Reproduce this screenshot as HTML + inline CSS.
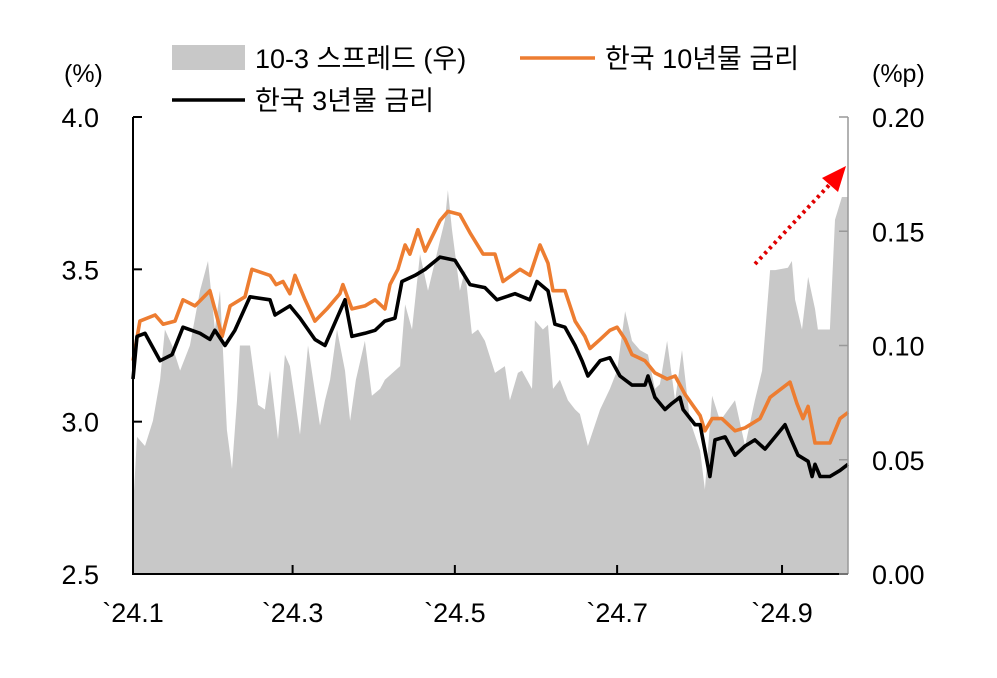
<!DOCTYPE html>
<html><head><meta charset="utf-8"><style>
body{margin:0;background:#fff;}
svg text{font-family:"Liberation Sans","Noto Sans CJK KR",sans-serif;fill:#000;}
</style></head><body>
<svg id="chart" width="997" height="673" viewBox="0 0 997 673" xmlns="http://www.w3.org/2000/svg">
<g id="spread-layer"></g>
<g id="lines-layer"></g>
<g id="axes-layer"></g>
<text x="64" y="82" font-size="25">(%)</text>
<text x="872" y="82" font-size="25">(%p)</text>
<rect x="172" y="45" width="73" height="25" fill="#c8c8c8"/>
<text x="255" y="68" font-size="27">10-3 스프레드 (우)</text>
<line x1="520" y1="58" x2="595" y2="58" stroke="#ed7d31" stroke-width="3.5"/>
<text x="605" y="68" font-size="27">한국 10년물 금리</text>
<line x1="172" y1="100" x2="245" y2="100" stroke="#000" stroke-width="3.5"/>
<text x="255" y="110" font-size="27">한국 3년물 금리</text>
<line x1="755" y1="264" x2="832" y2="182" stroke="#e00000" stroke-width="4" stroke-dasharray="3,4"/>
<polygon points="846,166 822,178 838,192" fill="#ff0000"/>
</svg>
<script>
const spreadDays=[0,0.4,1.5,4.5,7.5,10.2,12,14.7,17.7,21.4,25.2,28.2,30.8,32.7,35.3,37.2,39.1,40.2,44,47,49.6,51.5,54.5,57.1,59,60.9,62.8,65.8,70.3,72.2,74.1,76.7,79.7,81.6,83.8,87.2,89.8,92.9,94.7,100.4,102.3,104.9,107.9,110.9,115.4,117.3,118.4,119.9,122.9,124.8,127.4,129.7,132.3,136.1,139.8,141.7,144.7,146.2,150,151.1,154.1,156,157.9,160.5,163.5,166.2,168,171,175.6,179.3,182,185,187.6,190.6,193.6,196.2,198.1,200.8,203.8,206.4,209.4,213.2,215,217.7,220.7,226.3,230.1,233.8,236.5,239.5,241.4,246.2,247.7,248.9,251.5,253.8,256.4,257.5,260.2,262,263.9,266.5,268.8];
const spreadValues=[0.030,0.037,0.060,0.056,0.067,0.085,0.107,0.100,0.089,0.100,0.124,0.137,0.107,0.124,0.063,0.046,0.076,0.100,0.100,0.074,0.072,0.089,0.059,0.096,0.091,0.076,0.061,0.100,0.065,0.076,0.085,0.107,0.089,0.067,0.085,0.102,0.078,0.081,0.085,0.091,0.118,0.107,0.140,0.124,0.146,0.155,0.168,0.151,0.124,0.133,0.105,0.107,0.102,0.088,0.091,0.076,0.088,0.089,0.081,0.111,0.107,0.109,0.081,0.085,0.076,0.072,0.070,0.056,0.072,0.081,0.089,0.115,0.102,0.098,0.096,0.081,0.083,0.102,0.076,0.098,0.067,0.054,0.037,0.078,0.067,0.076,0.056,0.076,0.089,0.133,0.133,0.134,0.137,0.120,0.107,0.130,0.116,0.107,0.107,0.107,0.155,0.165,0.165];
const y3Days=[0,1.5,4.5,10.2,14.7,18.8,25.2,28.9,30.8,34.6,38.3,44,51.5,53.4,59,62.8,68.4,72.2,79.7,82.3,87.2,91,94.7,98.5,101.1,106,109.8,115.4,121,126.7,132.3,136.8,143.6,149.2,151.9,156,158.6,162.4,166.2,168.8,171,175.6,179.3,183.1,187.6,192.5,193.6,196.2,200,202.6,205.6,206.8,211.3,213.2,216.9,218.8,222.6,226.3,230.1,233.8,237.6,241.4,245.1,247,250,253.8,255.3,256.4,258.3,262,265.8,268.8];
const y3Values=[3.14,3.28,3.29,3.20,3.22,3.31,3.29,3.27,3.30,3.25,3.30,3.41,3.40,3.35,3.38,3.34,3.27,3.25,3.40,3.28,3.29,3.30,3.33,3.34,3.46,3.48,3.50,3.54,3.53,3.45,3.44,3.40,3.42,3.40,3.46,3.43,3.32,3.31,3.25,3.20,3.15,3.20,3.21,3.15,3.12,3.12,3.15,3.08,3.04,3.06,3.08,3.04,2.99,2.99,2.82,2.94,2.95,2.89,2.92,2.94,2.91,2.95,2.99,2.95,2.89,2.87,2.82,2.86,2.82,2.82,2.84,2.86];
const y10Days=[0,2.6,8.3,11.3,15.8,18.8,23.3,28.9,32,33.5,36.5,42.1,44.7,51.5,53.8,56.4,59,60.9,64.7,68.4,72.9,77.8,78.9,82.3,87.2,91,94.7,96.6,99.6,102.3,104.1,107.1,109.8,115.4,118.4,122.9,126.7,131.6,136.1,139.1,145.5,149.2,153,156,157.9,162.4,166.2,169.9,171.8,175.6,179.3,182,185,187.6,192.5,196.2,200.8,203.8,207.5,213.2,215,217.7,221.4,226.3,230.1,235.7,239.5,247,249.6,251.9,253.8,256.4,262,265.8,268.8];
const y10Values=[3.20,3.33,3.35,3.32,3.33,3.40,3.38,3.43,3.33,3.28,3.38,3.41,3.50,3.48,3.45,3.46,3.42,3.48,3.40,3.33,3.37,3.42,3.45,3.37,3.38,3.40,3.37,3.45,3.50,3.58,3.55,3.63,3.56,3.66,3.69,3.68,3.62,3.55,3.55,3.46,3.50,3.48,3.58,3.52,3.43,3.43,3.33,3.28,3.24,3.27,3.30,3.31,3.27,3.22,3.20,3.16,3.14,3.15,3.09,3.02,2.97,3.01,3.01,2.97,2.98,3.01,3.08,3.13,3.06,3.01,3.05,2.93,2.93,3.01,3.03];
const xTickDays=[0,60,121,182,244];
const xTickLabels=["`24.1","`24.3","`24.5","`24.7","`24.9"];
const leftTicks=[2.5,3.0,3.5,4.0];
const leftTickLabels=["2.5","3.0","3.5","4.0"];
const rightTicks=[0,0.05,0.10,0.15,0.20];
const rightTickLabels=["0.00","0.05","0.10","0.15","0.20"];

const X0=133,X1=848,Y0=574,Y1=117,DMAX=268.8;
function xs(d){return X0+d/DMAX*(X1-X0);}
function yL(v){return Y0-(v-2.5)/1.5*(Y0-Y1);}
function yR(v){return Y0-v/0.2*(Y0-Y1);}
const NS="http://www.w3.org/2000/svg";
function mk(tag,parent){const e=document.createElementNS(NS,tag);parent.appendChild(e);return e;}

const sp=document.getElementById('spread-layer');
let d="M"+xs(spreadDays[0])+","+Y0;
spreadDays.forEach((dd,i)=>{d+=" L"+xs(dd).toFixed(1)+","+yR(spreadValues[i]).toFixed(1);});
d+=" L"+xs(spreadDays[spreadDays.length-1])+","+Y0+" Z";
const area=mk('path',sp);
area.setAttribute('d',d);area.setAttribute('fill','#c8c8c8');



const ll=document.getElementById('lines-layer');
function line(days,vals,color,name){
  const p=mk('polyline',ll);
  p.setAttribute('points',days.map((dd,i)=>xs(dd).toFixed(1)+","+yL(vals[i]).toFixed(1)).join(" "));
  p.setAttribute('fill','none');p.setAttribute('stroke',color);p.setAttribute('stroke-width','3.6');p.setAttribute('stroke-linejoin','round');
  
  
}
line(y10Days,y10Values,'#ed7d31','ktb-10y-line');
line(y3Days,y3Values,'#000','ktb-3y-line');

const ax=document.getElementById('axes-layer');
function ln(x1,y1,x2,y2,c,w,name){const l=mk('line',ax);l.setAttribute('x1',x1);l.setAttribute('y1',y1);l.setAttribute('x2',x2);l.setAttribute('y2',y2);l.setAttribute('stroke',c);l.setAttribute('stroke-width',w);
  
  }
function tx(x,y,s,anchor,name){const t=mk('text',ax);t.setAttribute('x',x);t.setAttribute('y',y);t.setAttribute('font-size','27');t.setAttribute('text-anchor',anchor);t.textContent=s;
  
  }
ln(X0,Y1,X0,Y0+1,'#000',2,'left-axis-line');
ln(X1,Y1,X1,Y0,'#999',1.5,'right-axis-line');
ln(X0,Y0,X1,Y0,'#000',2,'x-axis-line');
leftTicks.forEach((v,i)=>{ln(X0,yL(v),X0+9,yL(v),'#000',2,'left-tick');tx(99,yL(v)+10,leftTickLabels[i],'end','left-tick-label');});
rightTicks.forEach((v,i)=>{ln(X1-9,yR(v),X1,yR(v),'#999',1.5,'right-tick');tx(872,yR(v)+10,rightTickLabels[i],'start','right-tick-label');});
xTickDays.forEach((dd,i)=>{ln(xs(dd),Y0-9,xs(dd),Y0,'#000',2,'x-tick');tx(xs(dd),622,xTickLabels[i],'middle','x-tick-label');});
</script>
</body></html>
